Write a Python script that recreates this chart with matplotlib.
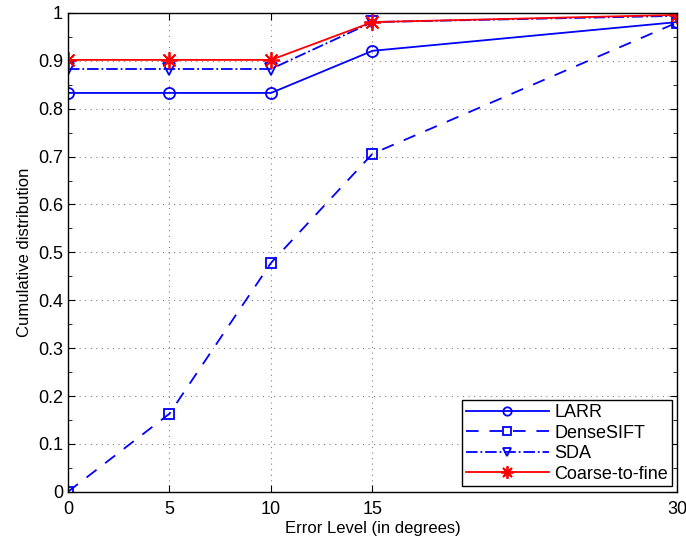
import matplotlib.pyplot as plt
from matplotlib.ticker import AutoMinorLocator

error_levels = [0, 5, 10, 15, 30]
larr = [0.833, 0.833, 0.833, 0.921, 0.981]
dense_sift = [0.0, 0.163, 0.478, 0.706, 0.980]
sda = [0.883, 0.883, 0.883, 0.981, 0.994]
coarse_to_fine = [0.902, 0.902, 0.902, 0.981, 0.996]


def main():
    plt.rcParams['font.family'] = ['Liberation Sans', 'DejaVu Sans']
    fig = plt.figure(figsize=(6.86, 5.41), dpi=100)
    ax = fig.add_axes([0.099, 0.091, 0.888, 0.885])

    ax.plot(error_levels, larr, '-o', color='blue', lw=1.3, ms=8,
            mfc='none', mew=1.3, label='LARR')
    ax.plot(error_levels, dense_sift, '--s', color='blue', lw=1.3, ms=7,
            mfc='none', mew=1.3, dashes=(7, 6), label='DenseSIFT')
    ax.plot(error_levels, sda, '-.v', color='blue', lw=1.3, ms=8,
            mfc='none', mew=1.3, label='SDA')
    ax.plot(error_levels, coarse_to_fine, '-', marker=(8, 2, 0), color='red',
            lw=1.3, ms=12, mew=1.3, label='Coarse-to-fine')

    ax.set_xlim(0, 30)
    ax.set_ylim(0, 1)
    ax.set_xticks(error_levels)
    ax.set_yticks([i / 10 for i in range(11)])
    ax.set_yticklabels(['0', '0.1', '0.2', '0.3', '0.4', '0.5', '0.6', '0.7',
                        '0.8', '0.9', '1'])
    ax.yaxis.set_minor_locator(AutoMinorLocator(2))
    ax.tick_params(which='both', direction='in', top=True, right=True,
                   labelsize=13)
    ax.tick_params(axis='x', pad=7)
    ax.tick_params(which='major', length=5)
    ax.tick_params(which='minor', length=3)
    ax.grid(True, which='major', linestyle=(0, (1, 4)), color='gray', lw=0.8)
    for s in ax.spines.values():
        s.set_linewidth(1.0)

    ax.set_xlabel('Error Level (in degrees)', fontsize=12, labelpad=2)
    ax.set_ylabel('Cumulative distribution', fontsize=12)

    leg = ax.legend(loc='lower right', fontsize=13, fancybox=False,
                    framealpha=1, edgecolor='black', handlelength=4.6,
                    borderpad=0.2, labelspacing=0.2, handletextpad=0.3,
                    borderaxespad=0.3, markerscale=0.75)
    leg.get_frame().set_linewidth(1.0)

    fig.savefig('out.png')


main()
